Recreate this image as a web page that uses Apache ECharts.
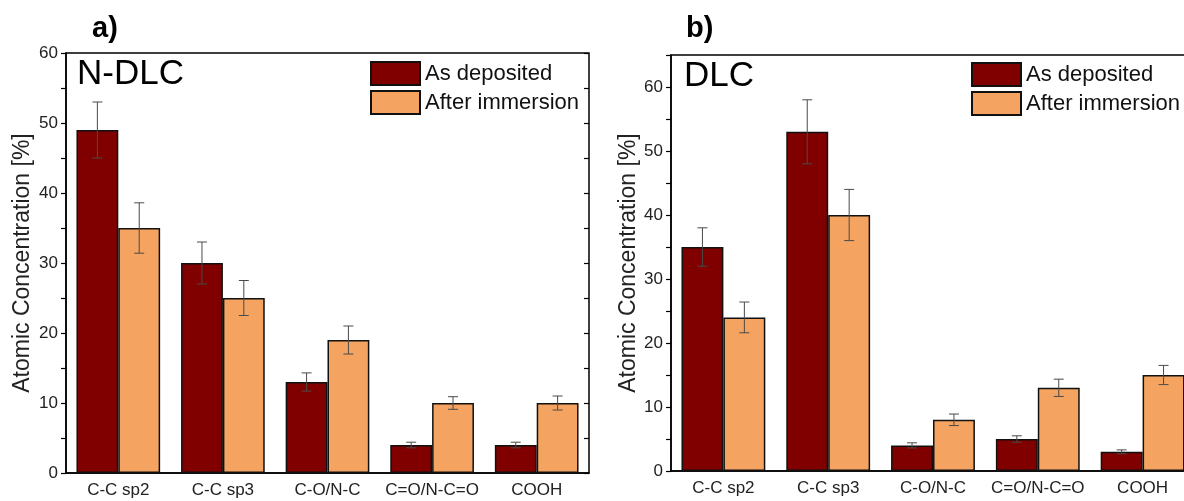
<!DOCTYPE html>
<html lang="en">
  <head>
    <meta charset="utf-8">
    <title>XPS atomic concentration</title>
    <script src="https://cdn.jsdelivr.net/npm/echarts@6/dist/echarts.min.js"></script>
    <style>
      html, body { margin:0; padding:0; background:#fff; overflow:hidden; }
      /* the right panel runs a little past the window edge, as in the source figure */
      #chart { width:1196px; height:501px; }
    </style>
  </head>
  <body>
    <div id="chart"></div>
    <script type="text/javascript">
      // carbon bonding states
      var categories = ['C-C sp2', 'C-C sp3', 'C-O/N-C', 'C=O/N-C=O', 'COOH'];
      var seriesNames = ['As deposited', 'After immersion'];

      // a) N-DLC
      var ndlcDeposited = [49, 30, 13, 4, 4];
      var ndlcDepositedErr = [4, 3, 1.3, 0.4, 0.4];
      var ndlcImmersed = [35, 25, 19, 10, 10];
      var ndlcImmersedErr = [3.6, 2.5, 2, 0.9, 1];

      // b) DLC
      var dlcDeposited = [35, 53, 4, 5, 3];
      var dlcDepositedErr = [3, 5, 0.4, 0.5, 0.3];
      var dlcImmersed = [24, 40, 8, 13, 15];
      var dlcImmersedErr = [2.4, 4, 0.9, 1.35, 1.5];

      var COLORS = ['#800000', '#F4A460'];
      var FONT = '"Liberation Sans", Arial, sans-serif';

      // [index, value, err] rows for the error bar series
      function errRows(vals, errs){
        var rows = [];
        for(var i = 0; i < vals.length; i++){
          rows.push([i, vals[i], errs[i]]);
        }
        return rows;
      }

      // side: -1 left bar of the pair, +1 right bar
      function errRender(side){
        return function(params, api){
          var idx = api.value(0);
          var val = api.value(1);
          var err = api.value(2);
          var band = api.size([1, 0])[0];
          var cx = api.coord([idx, val])[0] + side * band * 0.8 / 4;
          var top = api.coord([idx, val + err])[1];
          var bot = api.coord([idx, val - err])[1];
          var cap = 5;
          var st = { stroke:'#4a4a4a', lineWidth:1 };
          return {
            type:'group',
            children:[
              { type:'line', shape:{ x1:cx, y1:top, x2:cx, y2:bot }, style:st },
              { type:'line', shape:{ x1:cx - cap, y1:top, x2:cx + cap, y2:top }, style:st },
              { type:'line', shape:{ x1:cx - cap, y1:bot, x2:cx + cap, y2:bot }, style:st }
            ]
          };
        };
      }

      function leftAxis(grid, max, gap){
        return {
          type:'value', gridIndex:grid, position:'left', min:0, max:max, interval:5,
          name:'Atomic Concentration [%]', nameLocation:'middle', nameGap:gap,
          nameTextStyle:{ fontFamily:FONT, fontSize:23, color:'#222' },
          axisLine:{ show:true, lineStyle:{ color:'#000', width:1.5 } },
          axisTick:{ show:true, length:5, lineStyle:{ color:'#000', width:1.2 } },
          axisLabel:{
            fontFamily:FONT, fontSize:17, color:'#222', margin:8,
            formatter:function(v){ return v % 10 === 0 ? v : ''; }
          },
          splitLine:{ show:false }
        };
      }

      function rightAxis(grid, max){
        return {
          type:'value', gridIndex:grid, position:'right', min:0, max:max, interval:5,
          axisLine:{ show:false },
          axisTick:{ show:true, inside:true, length:5, lineStyle:{ color:'#000', width:1.2 } },
          axisLabel:{ show:false },
          splitLine:{ show:false }
        };
      }

      function catAxis(grid){
        return {
          type:'category', gridIndex:grid, data:categories,
          axisLine:{ show:true, lineStyle:{ color:'#000', width:1.5 } },
          axisTick:{ show:false },
          axisLabel:{ interval:0, fontFamily:FONT, fontSize:17, color:'#222', margin:9 }
        };
      }

      function barSeries(name, grid, data, color){
        return {
          name:name, type:'bar', xAxisIndex:grid, yAxisIndex:grid * 2,
          data:data, barGap:'0%', barCategoryGap:'20%',
          itemStyle:{ color:color, borderColor:'#111', borderWidth:1.5 },
          emphasis:{ disabled:true }
        };
      }

      function errSeries(grid, rows, side){
        return {
          type:'custom', xAxisIndex:grid, yAxisIndex:grid * 2, z:5,
          data:rows, encode:{ x:0, y:1 }, renderItem:errRender(side)
        };
      }

      function legendAt(left, top){
        return {
          data:seriesNames, orient:'vertical', left:left, top:top, padding:0,
          itemWidth:49, itemHeight:23, itemGap:4, icon:'rect',
          textStyle:{ fontFamily:FONT, fontSize:22, color:'#111' }
        };
      }

      var chart = echarts.init(document.getElementById('chart'));
      var option = {
        animation:false,
        grid:[
          { left:66, top:53, width:523, bottom:28, show:true, borderColor:'#000', borderWidth:1.5 },
          { left:671, top:55, width:524, bottom:30, show:true, borderColor:'#000', borderWidth:1.5 }
        ],
        legend:[ legendAt(370, 61), legendAt(971, 62) ],
        xAxis:[ catAxis(0), catAxis(1) ],
        yAxis:[ leftAxis(0, 60, 32), rightAxis(0, 60), leftAxis(1, 65, 31), rightAxis(1, 65) ],
        graphic:[
          { type:'text', left:92, top:14, style:{ text:'a)', font:'bold 29px ' + FONT, fill:'#000' } },
          { type:'text', left:686, top:14, style:{ text:'b)', font:'bold 29px ' + FONT, fill:'#000' } },
          { type:'text', left:77, top:57, style:{ text:'N-DLC', font:'35px ' + FONT, fill:'#000' } },
          { type:'text', left:684, top:59, style:{ text:'DLC', font:'35px ' + FONT, fill:'#000' } }
        ],
        series:[
          barSeries(seriesNames[0], 0, ndlcDeposited, COLORS[0]),
          barSeries(seriesNames[1], 0, ndlcImmersed, COLORS[1]),
          barSeries(seriesNames[0], 1, dlcDeposited, COLORS[0]),
          barSeries(seriesNames[1], 1, dlcImmersed, COLORS[1]),
          errSeries(0, errRows(ndlcDeposited, ndlcDepositedErr), -1),
          errSeries(0, errRows(ndlcImmersed, ndlcImmersedErr), 1),
          errSeries(1, errRows(dlcDeposited, dlcDepositedErr), -1),
          errSeries(1, errRows(dlcImmersed, dlcImmersedErr), 1)
        ]
      };
      option && chart.setOption(option);
    </script>
  </body>
</html>
